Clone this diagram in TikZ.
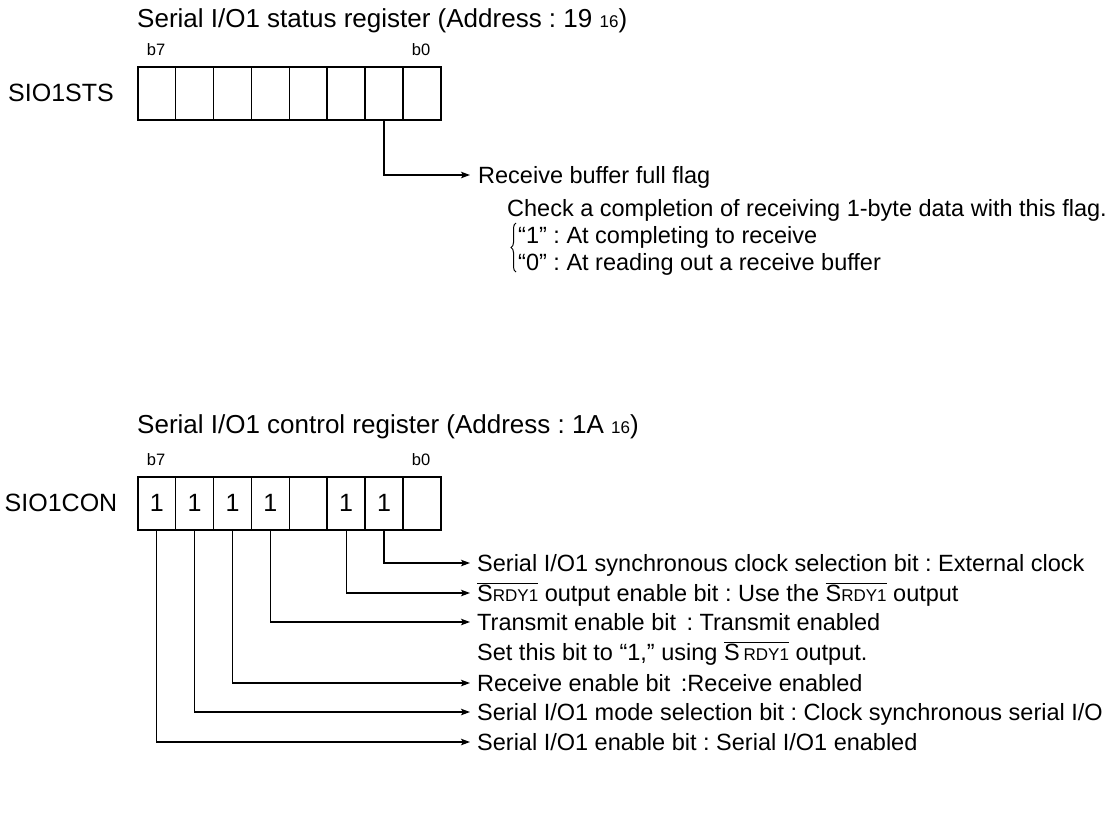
\documentclass[tikz,border=0pt]{standalone}
\usepackage{fontspec}
\setmainfont{Liberation Sans}
\usetikzlibrary{arrows.meta,decorations.pathreplacing}
\frenchspacing
\newcommand\fsDesc{\fontsize{23.5}{28}\selectfont}
\newcommand\fsTitle{\fontsize{26}{30}\selectfont}
\newcommand\fsName{\fontsize{25}{30}\selectfont}
\newcommand\fsBit{\fontsize{16.5}{20}\selectfont}
\newcommand\fsSub{\fontsize{17}{20}\selectfont}
\newcommand\ovl[1]{$\overline{\hbox{#1}}$}
\newcommand\srdy{S{\fsSub RDY1}}
\begin{document}
\begin{tikzpicture}[x=1pt,y=-1pt,
  cell/.style={draw, line width=1.6pt, minimum width=37.875pt, minimum height=53pt,
    inner sep=0pt, anchor=north west, font=\fsName},
  regname/.style={font=\fsName, inner sep=0pt},
  title/.style={font=\fsTitle, anchor=base west, inner sep=0pt},
  bitlbl/.style={font=\fsBit, inner sep=0pt},
  desc/.style={font=\fsDesc, anchor=west, inner sep=0pt, text height=16.8pt, text depth=0pt},
  conn/.style={line width=1.2pt, -{Stealth[length=9pt,width=6.5pt,inset=2pt]}},
  bracestyle/.style={line width=1pt, decorate, decoration={brace, amplitude=5pt}}]
\useasboundingbox (0,0) rectangle (1118,820);

% ---------- status register ----------
\node[title] (t1) at (137,27) {Serial I/O1 status register (Address : 19 {\fsSub 16})};
\node[bitlbl] (sb7) at (156,50) {b7};
\node[bitlbl] (sb0) at (421,50) {b0};
\node[regname] (sn) at (61,93) {SIO1STS};
\foreach \i in {0,...,7}{
  \pgfmathtruncatemacro\b{7-\i}
  \node[cell] (s\b) at ({137+37.875*\i},66) {};
}
\coordinate (se1) at (470,175);
\draw[conn] (s1.south) |- (se1);
\node[desc] (sd1) at (478,175) {Receive buffer full flag};
\node[desc] (sd2) at (507,208) {Check a completion of receiving 1-byte data with this flag.};
\node[desc] (sd3) at (518,235) {“1” : At completing to receive};
\node[desc] (sd4) at (518,262) {“0” : At reading out a receive buffer};
\draw[bracestyle] (516,272) -- (516,223);

% ---------- control register ----------
\node[title] (t2) at (137,433) {Serial I/O1 control register (Address : 1A {\fsSub 16})};
\node[bitlbl] (cb7) at (156,460) {b7};
\node[bitlbl] (cb0) at (421,460) {b0};
\node[regname] (cn) at (61,503) {SIO1CON};
\foreach \i/\v in {0/1,1/1,2/1,3/1,4/{},5/1,6/1,7/{}}{
  \pgfmathtruncatemacro\b{7-\i}
  \node[cell] (c\b) at ({137+37.875*\i},476) {\v};
}
\coordinate (ce1) at (470,563);
\coordinate (ce2) at (470,593);
\coordinate (ce4) at (470,622);
\coordinate (ce5) at (470,683);
\coordinate (ce6) at (470,712);
\coordinate (ce7) at (470,742);
\draw[conn] (c1.south) |- (ce1);
\draw[conn] (c2.south) |- (ce2);
\draw[conn] (c4.south) |- (ce4);
\draw[conn] (c5.south) |- (ce5);
\draw[conn] (c6.south) |- (ce6);
\draw[conn] (c7.south) |- (ce7);
\node[desc] (cd1) at (477,563) {Serial I/O1 synchronous clock selection bit : External clock};
\node[desc] (cd2) at (477,593) {\ovl{\srdy} output enable bit : Use the \ovl{\srdy} output};
\node[desc] (cd4) at (477,622) {Transmit enable bit\, : Transmit enabled};
\node[desc] (cdn) at (477,652) {Set this bit to “1,” using \ovl{S\,{\fsSub RDY1}} output.};
\node[desc] (cd5) at (477,683) {Receive enable bit\, :Receive enabled};
\node[desc] (cd6) at (477,712) {Serial I/O1 mode selection bit : Clock synchronous serial I/O};
\node[desc] (cd7) at (477,742) {Serial I/O1 enable bit : Serial I/O1 enabled};
\end{tikzpicture}
\end{document}
